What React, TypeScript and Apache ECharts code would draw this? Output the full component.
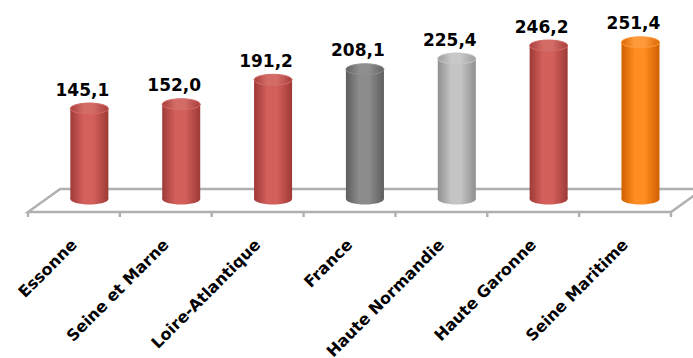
import React, { useEffect, useRef } from "react";
import * as echarts from "echarts";

// Values per département (rate, French decimal comma in labels)
const categories = [
  "Essonne",
  "Seine et Marne",
  "Loire-Atlantique",
  "France",
  "Haute Normandie",
  "Haute Garonne",
  "Seine Maritime",
];
const values = [145.1, 152.0, 191.2, 208.1, 225.4, 246.2, 251.4];
const barTones = ["red", "red", "red", "dark", "light", "red", "orange"];

// Cylinder shading per tone
const tones: Record<string, { edge: string; mid: string; top: string; rim: string }> = {
  red: { edge: "#9e3a37", mid: "#d4605c", top: "#a83f3c", rim: "#d36b67" },
  dark: { edge: "#5e5e5e", mid: "#8c8c8c", top: "#626262", rim: "#8f8f8f" },
  light: { edge: "#8f8f8f", mid: "#c4c4c4", top: "#9c9c9c", rim: "#c8c8c8" },
  orange: { edge: "#d05f00", mid: "#ff8d22", top: "#dc6904", rim: "#ff9a3a" },
};

const FONT = "'DejaVu Sans', sans-serif";

function hGrad(edge: string, mid: string) {
  return {
    type: "linear",
    x: 0,
    y: 0,
    x2: 1,
    y2: 0,
    colorStops: [
      { offset: 0, color: edge },
      { offset: 0.35, color: mid },
      { offset: 0.6, color: mid },
      { offset: 1, color: edge },
    ],
  };
}

const fmt = (v: number) => v.toFixed(1).replace(".", ",");

export default function App() {
  const ref = useRef<HTMLDivElement>(null);

  useEffect(() => {
    if (!ref.current) return;
    document.body.style.margin = "0";
    const chart = echarts.init(ref.current, undefined, { renderer: "svg" });

    // Perspective floor with category tick marks along its front edge
    const floorSeries = {
      type: "custom",
      z: 1,
      silent: true,
      data: [[0, 0]],
      renderItem: (params: any, api: any) => {
        const cs = params.coordSys;
        const bw = api.size([1, 0])[0];
        const zeroY = api.coord([0, 0])[1];
        const x0 = cs.x;
        const x1 = cs.x + cs.width;
        const backY = zeroY - 10;
        const frontY = zeroY + 13;
        const depth = bw * 0.35;
        const lineStyle = { stroke: "#b0b0b0", lineWidth: 2.4, fill: "none" };
        const children: any[] = [
          {
            type: "polygon",
            shape: {
              points: [
                [x0 + depth, backY],
                [x1 + depth, backY],
                [x1, frontY],
                [x0, frontY],
              ],
            },
            style: { fill: "#ffffff", stroke: "#b0b0b0", lineWidth: 2.4 },
          },
        ];
        for (let k = 0; k <= categories.length; k++) {
          const tx = x0 + k * bw;
          children.push({
            type: "line",
            shape: { x1: tx, y1: frontY, x2: tx, y2: frontY + 5 },
            style: lineStyle,
          });
        }
        return { type: "group", children };
      },
    };

    // Cylinders standing in the middle of the floor depth, with value labels
    const cylinderSeries = {
      type: "custom",
      z: 2,
      data: values.map((v, i) => [i, v]),
      renderItem: (params: any, api: any) => {
        const idx = api.value(0);
        const val = api.value(1);
        const base = api.coord([idx, 0]);
        const top = api.coord([idx, val]);
        const bw = api.size([1, 0])[0];
        const cx = base[0] + bw * 0.168;
        const rx = bw * 0.207;
        const ry = 5.5;
        const t = tones[barTones[params.dataIndex]];
        const body = hGrad(t.edge, t.mid);
        return {
          type: "group",
          children: [
            {
              type: "ellipse",
              shape: { cx, cy: base[1], rx, ry },
              style: { fill: body },
            },
            {
              type: "rect",
              shape: { x: cx - rx, y: top[1], width: rx * 2, height: base[1] - top[1] },
              style: { fill: body },
            },
            {
              type: "ellipse",
              shape: { cx, cy: top[1], rx, ry },
              style: { fill: hGrad(t.top, t.rim), stroke: t.rim, lineWidth: 1 },
            },
            {
              type: "text",
              style: {
                text: fmt(val),
                x: cx - 7,
                y: top[1] - 19,
                align: "center",
                verticalAlign: "middle",
                fill: "#000000",
                font: `bold 17px ${FONT}`,
              },
            },
          ],
        };
      },
    };

    chart.setOption({
      animation: false,
      backgroundColor: "#ffffff",
      grid: {
        left: 28,
        right: 22,
        top: 12,
        bottom: 159,
        containLabel: false,
        outerBoundsMode: "none",
      },
      xAxis: {
        type: "category",
        data: categories,
        axisLine: { show: false },
        axisTick: { show: false },
        splitLine: { show: false },
        axisLabel: {
          interval: 0,
          rotate: 45,
          margin: 43,
          color: "#000000",
          fontFamily: FONT,
          fontWeight: "bold",
          fontSize: 16,
        },
      },
      yAxis: {
        type: "value",
        min: 0,
        max: 300,
        show: false,
      },
      series: [floorSeries, cylinderSeries],
    });

    return () => chart.dispose();
  }, []);

  return (
    <div
      ref={ref}
      style={{ position: "fixed", left: 0, top: 0, width: 693, height: 358 }}
    />
  );
}
